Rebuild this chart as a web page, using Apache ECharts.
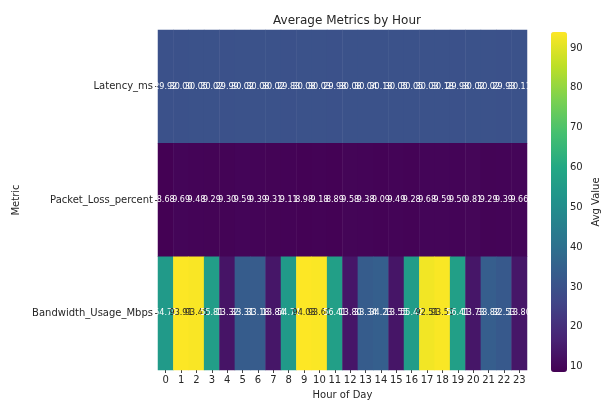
<!DOCTYPE html>
<html>
<head>
<meta charset="utf-8">
<script src="https://cdn.jsdelivr.net/npm/echarts@6/dist/echarts.min.js"></script>
<style>
  html, body { margin: 0; padding: 0; background: #fff; }
  #chart { width: 602px; height: 408px; }
</style>
</head>
<body>
<div id="chart"></div>
<script>
// Hours of the day along the x axis
const hours = ['0','1','2','3','4','5','6','7','8','9','10','11','12','13','14','15','16','17','18','19','20','21','22','23'];
// Metric rows, top to bottom
const metrics = ['Latency_ms', 'Packet_Loss_percent', 'Bandwidth_Usage_Mbps'];

// Hourly averages per metric
const latencyMs = [29.92, 30.00, 30.05, 30.02, 29.99, 30.02, 30.08, 30.02, 29.83, 30.08, 30.03, 29.98,
                   30.08, 30.04, 30.18, 30.05, 30.05, 30.03, 30.18, 29.98, 30.02, 30.02, 29.93, 30.11];
const packetLossPct = [8.68, 9.69, 9.48, 9.29, 9.30, 9.59, 9.39, 9.31, 9.11, 8.98, 9.18, 8.89,
                       9.58, 9.38, 9.09, 9.49, 9.28, 9.68, 9.59, 9.50, 9.81, 9.29, 9.39, 9.66];
const bandwidthMbps = [54.70, 93.91, 93.45, 55.81, 13.32, 33.31, 33.18, 13.84, 54.74, 94.03, 93.60, 56.41,
                       13.80, 33.34, 34.23, 13.55, 55.42, 92.51, 93.53, 56.41, 13.73, 33.82, 32.53, 13.80];

// Colour scale limits
const colorMin = 8.68;
const colorMax = 94.03;
// Colour bar ticks
const barTicks = [10, 20, 30, 40, 50, 60, 70, 80, 90];

const viridis = ['#440154','#482475','#414487','#355f8d','#2a788e','#21918c','#22a884','#44bf70','#7ad151','#bddf26','#fde725'];

const rows = [latencyMs, packetLossPct, bandwidthMbps];
const cells = [];
rows.forEach((vals, r) => {
  vals.forEach((v, c) => {
    const t = (v - colorMin) / (colorMax - colorMin);
    cells.push({
      value: [c, r, v],
      label: { color: t > 0.8 ? '#262626' : '#ffffff' }
    });
  });
});

const FONT = 'DejaVu Sans';
const chart = echarts.init(document.getElementById('chart'));
chart.setOption({
  animation: false,
  backgroundColor: '#ffffff',
  textStyle: { fontFamily: FONT },
  title: {
    text: 'Average Metrics by Hour',
    left: 342, top: 10, textAlign: 'center',
    textStyle: { fontFamily: FONT, fontSize: 12, fontWeight: 'normal', color: '#262626' }
  },
  grid: [
    { left: 158, top: 30, width: 369, height: 340 },
    { left: 551, top: 32, width: 16, height: 340 }
  ],
  xAxis: [
    {
      type: 'category', data: hours, gridIndex: 0,
      name: 'Hour of Day', nameLocation: 'middle', nameGap: 20,
      nameTextStyle: { fontFamily: FONT, fontSize: 10, color: '#262626' },
      axisLine: { show: false },
      axisTick: { show: true, alignWithLabel: true, length: 3, lineStyle: { color: '#444' } },
      axisLabel: { fontFamily: FONT, fontSize: 10, color: '#262626', margin: 5, interval: 0 },
      splitLine: { show: false }
    },
    { type: 'value', gridIndex: 1, show: false, min: 0, max: 1 }
  ],
  yAxis: [
    {
      type: 'category', data: metrics, gridIndex: 0, inverse: true,
      name: 'Metric', nameLocation: 'middle', nameGap: 124, nameRotate: 90,
      nameTextStyle: { fontFamily: FONT, fontSize: 10, color: '#262626' },
      axisLine: { show: false },
      axisTick: { show: true, alignWithLabel: true, length: 3, lineStyle: { color: '#444' } },
      axisLabel: { fontFamily: FONT, fontSize: 10, color: '#262626', margin: 5 },
      splitLine: { show: false }
    },
    {
      type: 'value', gridIndex: 1, position: 'right', min: colorMin, max: colorMax,
      name: 'Avg Value', nameLocation: 'middle', nameGap: 26, nameRotate: 90,
      nameTextStyle: { fontFamily: FONT, fontSize: 10, color: '#262626' },
      axisLine: { show: false },
      axisTick: { show: true, length: 3, customValues: barTicks, lineStyle: { color: '#444' } },
      axisLabel: {
        fontFamily: FONT, fontSize: 10, color: '#262626', margin: 5,
        customValues: barTicks, showMinLabel: true, showMaxLabel: true
      },
      splitLine: { show: false }
    }
  ],
  visualMap: {
    type: 'continuous', min: colorMin, max: colorMax, seriesIndex: 0, dimension: 2,
    calculable: false, show: true, padding: 0,
    left: 551, top: 32, itemWidth: 16, itemHeight: 340, text: ['', ''], showLabel: false,
    inRange: { color: viridis }
  },
  series: [
    {
      type: 'heatmap', xAxisIndex: 0, yAxisIndex: 0, data: cells,
      label: {
        show: true, fontFamily: FONT, fontSize: 8,
        formatter: p => p.value[2].toFixed(2)
      },
      itemStyle: { borderWidth: 0 },
      emphasis: { disabled: true }
    },
    {
      // anchors the colour bar axis
      type: 'scatter', xAxisIndex: 1, yAxisIndex: 1, data: [], silent: true
    }
  ]
});
</script>
</body>
</html>
